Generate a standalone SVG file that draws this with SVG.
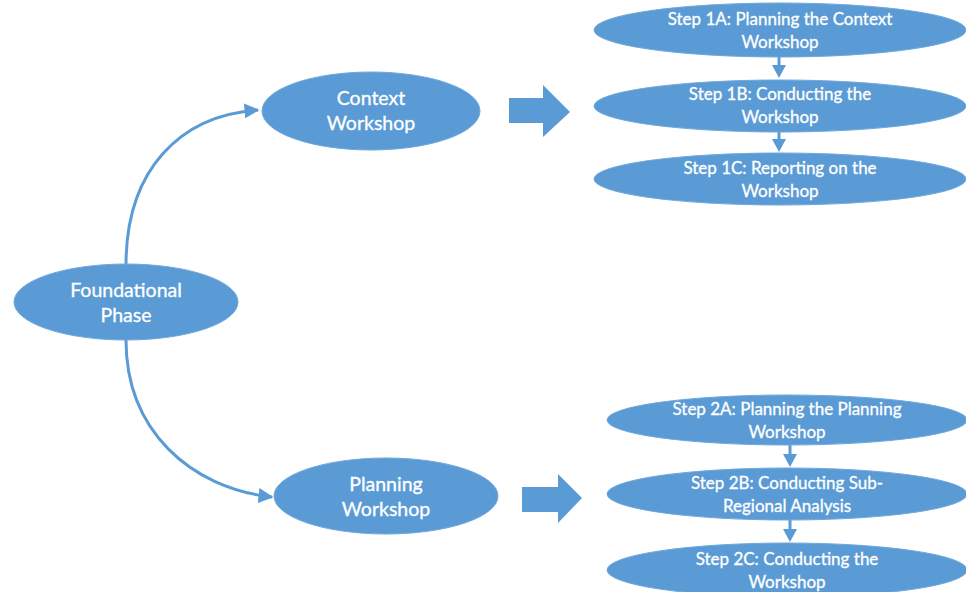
<svg xmlns="http://www.w3.org/2000/svg" width="966" height="592" viewBox="0 0 966 592">
<defs>
<style>
.node{fill:#5B9BD5;stroke:#6FA8DC;stroke-width:1}
.lbl{fill:#FFFFFF;stroke:#FFFFFF;stroke-width:0.3;font-family:Lato,"Liberation Sans",sans-serif;font-size:17px;text-anchor:middle}
.big{font-size:19.5px}
.conn{fill:none;stroke:#5B9BD5;stroke-width:3}
.blk{fill:#5B9BD5}
</style>
<marker id="ah" viewBox="0 0 10 10" refX="9" refY="5" markerWidth="5" markerHeight="5" orient="auto" markerUnits="strokeWidth">
<path d="M0,0 L10,5 L0,10 Z" fill="#5B9BD5"/>
</marker>
</defs>
<rect width="966" height="592" fill="#FFFFFF"/>
<g id="connectors">
<path class="conn" d="M126,265 C126,170 180,115 258,110" marker-end="url(#ah)"/>
<path class="conn" d="M126,340 C126,430 190,488 272,497" marker-end="url(#ah)"/>
<polygon class="blk" points="509,98 543,98 543,85 570,112 543,137 543,123 509,123"/>
<polygon class="blk" points="522,487 558,487 558,474 582,498 558,523 558,512 522,512"/>
<polygon class="blk" points="777.5,57 780.5,57 780.5,65 786,65 779,78 772,65 777.5,65"/>
<polygon class="blk" points="777.5,131 780.5,131 780.5,139 786,139 779,152 772,139 777.5,139"/>
<polygon class="blk" points="788.5,445 791.5,445 791.5,454 797,454 790,467 783,454 788.5,454"/>
<polygon class="blk" points="788.5,520 791.5,520 791.5,529 797,529 790,542 783,529 788.5,529"/>
</g>
<g id="foundational">
<ellipse class="node" cx="126" cy="302" rx="112" ry="38"/>
<text class="lbl big" x="126" y="297">Foundational</text>
<text class="lbl big" x="126" y="322">Phase</text>
</g>
<g id="context">
<ellipse class="node" cx="371" cy="111" rx="109" ry="39"/>
<text class="lbl big" x="371" y="105">Context</text>
<text class="lbl big" x="371" y="130">Workshop</text>
</g>
<g id="planning">
<ellipse class="node" cx="386" cy="496" rx="112" ry="38"/>
<text class="lbl big" x="386" y="491">Planning</text>
<text class="lbl big" x="386" y="516">Workshop</text>
</g>
<g id="step1a">
<ellipse class="node" cx="780" cy="30" rx="186" ry="27"/>
<text class="lbl" x="780" y="25">Step 1A: Planning the Context</text>
<text class="lbl" x="780" y="48">Workshop</text>
</g>
<g id="step1b">
<ellipse class="node" cx="780" cy="106" rx="186" ry="26"/>
<text class="lbl" x="780" y="100">Step 1B: Conducting the</text>
<text class="lbl" x="780" y="123">Workshop</text>
</g>
<g id="step1c">
<ellipse class="node" cx="780" cy="179" rx="186" ry="26"/>
<text class="lbl" x="780" y="174">Step 1C: Reporting on the</text>
<text class="lbl" x="780" y="197">Workshop</text>
</g>
<g id="step2a">
<ellipse class="node" cx="787" cy="420" rx="180" ry="25"/>
<text class="lbl" x="787" y="415">Step 2A: Planning the Planning</text>
<text class="lbl" x="787" y="438">Workshop</text>
</g>
<g id="step2b">
<ellipse class="node" cx="787" cy="494" rx="180" ry="26"/>
<text class="lbl" x="787" y="489">Step 2B: Conducting Sub-</text>
<text class="lbl" x="787" y="512">Regional Analysis</text>
</g>
<g id="step2c">
<ellipse class="node" cx="787" cy="570" rx="180" ry="27"/>
<text class="lbl" x="787" y="565">Step 2C: Conducting the</text>
<text class="lbl" x="787" y="588">Workshop</text>
</g>
</svg>
